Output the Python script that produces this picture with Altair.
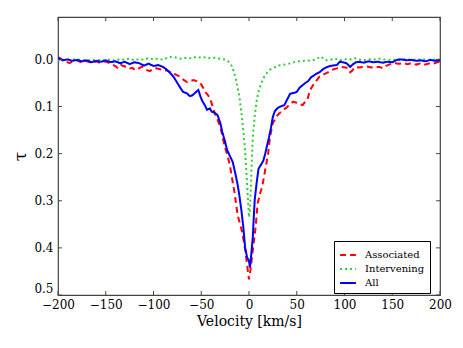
import altair as alt
import pandas as pd

# ---- data ----
assoc_v = [-200,-196,-192,-188,-184,-180,-176,-172,-168,-164,-160,-156,-152,-148,-144,-140,-137,-134,-130,-126,-122,-119,-116,-112,-108,-104,-100,-97,-93,-89,-86,-82,-78,-75,-72,-68,-65,-62,-58,-55,-51,-48,-46,-43,-41,-38,-36,-33,-30,-27,-25,-23,-20,-18,-15,-12,-9,-7,-4,-2,-1,0,2,4,7,9,12,14,17,20,22,25,28,30,34,38,42,46,50,53,56,58,61,64,67,71,74,77,80,83,87,92,97,101,104,106,108,111,115,119,124,128,133,137,140,144,148,152,157,161,166,170,175,179,182,186,190,193,197,200]
assoc_tau = [-0.005,0.000,0.004,0.008,0.003,0.002,0.006,0.003,0.005,0.008,0.004,0.007,0.004,0.006,0.010,0.014,0.019,0.012,0.015,0.020,0.018,0.023,0.020,0.015,0.022,0.025,0.020,0.019,0.021,0.024,0.023,0.027,0.031,0.034,0.037,0.044,0.048,0.046,0.044,0.046,0.050,0.060,0.069,0.076,0.082,0.100,0.114,0.128,0.143,0.171,0.188,0.200,0.225,0.249,0.284,0.330,0.352,0.368,0.404,0.435,0.453,0.467,0.440,0.404,0.355,0.306,0.282,0.268,0.234,0.200,0.164,0.135,0.125,0.118,0.110,0.104,0.097,0.090,0.092,0.095,0.097,0.092,0.086,0.065,0.055,0.044,0.036,0.033,0.030,0.027,0.022,0.019,0.016,0.017,0.019,0.027,0.024,0.016,0.017,0.016,0.015,0.017,0.016,0.016,0.019,0.013,0.010,0.008,0.009,0.008,0.010,0.008,0.011,0.009,0.012,0.010,0.008,0.009,0.006,0.005]

inter_v = [-200,-190,-180,-170,-160,-150,-145,-140,-135,-130,-125,-120,-115,-110,-105,-100,-95,-90,-85,-80,-75,-70,-65,-60,-55,-50,-45,-40,-35,-30,-25,-22,-19,-16,-14,-12,-10,-8,-6,-4,-2,0,1,2,3,4,6,8,10,13,16,19,22,25,28,31,34,38,42,46,50,55,60,65,70,75,80,85,90,95,100,105,110,115,120,125,130,135,140,150,160,170,180,190,200]
inter_tau = [0.002,0.001,0.000,0.002,0.001,0.002,0.000,0.003,-0.001,0.001,-0.002,0.002,-0.001,0.001,-0.003,0.000,-0.002,0.001,-0.004,-0.006,-0.003,-0.001,-0.004,-0.002,-0.006,-0.003,-0.005,-0.002,-0.004,-0.001,0.000,0.004,0.010,0.025,0.040,0.058,0.080,0.112,0.150,0.195,0.265,0.335,0.320,0.270,0.210,0.165,0.120,0.088,0.068,0.050,0.037,0.028,0.022,0.018,0.016,0.013,0.012,0.011,0.009,0.007,0.004,0.004,0.002,0.003,0.000,-0.006,0.002,0.001,-0.002,0.002,-0.001,0.001,-0.003,0.000,0.002,-0.001,0.001,-0.002,0.000,0.001,-0.001,0.001,0.000,0.001,0.000]

all_v = [-200,-195,-190,-185,-180,-175,-170,-165,-160,-155,-150,-145,-140,-135,-130,-125,-120,-115,-110,-105,-100,-95,-90,-86,-82,-79,-75,-72,-69,-65,-62,-59,-56,-53,-51,-49,-46,-44,-41,-39,-36,-33,-30,-28,-25,-23,-20,-17,-14,-12,-10,-8,-6,-4,-2,0,1,3,4,5,6,8,10,13,15,17,19,21,23,25,27,30,33,37,40,43,47,50,53,56,59,62,65,68,71,74,78,82,85,88,92,95,98,102,106,109,112,116,120,125,130,135,140,145,150,155,160,165,170,175,180,185,190,195,200]
all_tau = [-0.004,0.002,0.000,0.003,0.001,0.004,0.002,0.006,0.003,0.005,0.002,0.006,0.004,0.008,0.005,0.010,0.006,0.008,0.013,0.009,0.014,0.012,0.016,0.022,0.030,0.037,0.050,0.060,0.069,0.072,0.078,0.076,0.070,0.065,0.078,0.088,0.098,0.107,0.104,0.111,0.113,0.118,0.135,0.154,0.175,0.192,0.205,0.218,0.245,0.265,0.290,0.320,0.355,0.400,0.420,0.428,0.442,0.400,0.376,0.335,0.298,0.262,0.232,0.222,0.215,0.200,0.182,0.165,0.145,0.122,0.110,0.103,0.100,0.097,0.085,0.073,0.071,0.069,0.060,0.055,0.050,0.046,0.038,0.034,0.030,0.027,0.020,0.016,0.014,0.013,0.012,0.005,0.006,0.008,0.016,0.010,0.006,0.005,0.007,0.004,0.006,0.005,0.007,0.005,0.006,0.001,0.000,0.002,0.001,0.003,0.002,0.004,0.001,0.003,0.002]

series_names = ["Associated", "Intervening", "All"]
series_colors = ["#ff0000", "#33cc33", "#0000ff"]
series_dash = [[6, 4], [2, 3], [1, 0]]

x_ticks = [-200, -150, -100, -50, 0, 50, 100, 150, 200]
y_ticks = [0.0, 0.1, 0.2, 0.3, 0.4, 0.5]

rows = []
for name, vs, ts in [("Associated", assoc_v, assoc_tau),
                     ("Intervening", inter_v, inter_tau),
                     ("All", all_v, all_tau)]:
    for v, t in zip(vs, ts):
        rows.append({"velocity": v, "tau": t, "series": name})
df = pd.DataFrame(rows)

W, H = 382, 278
FONT = "DejaVu Serif, Liberation Serif, serif"
FRAME = "#444444"

xscale = alt.Scale(domain=[-200, 200], nice=False, zero=False)
yscale = alt.Scale(domain=[-0.09, 0.5], reverse=True, nice=False, zero=False)

xaxis = alt.Axis(values=x_ticks, ticks=False, domain=False, grid=False,
                 title="Velocity [km/s]", labelFont=FONT, labelFontSize=12,
                 labelColor="black", labelPadding=4, titleFont=FONT,
                 titleFontSize=14, titleFontWeight="normal", titleColor="black",
                 titlePadding=4, labelFlush=False)
yaxis = alt.Axis(values=y_ticks, format=".1f", ticks=False, domain=False, grid=False,
                 title="τ", labelFont=FONT, labelFontSize=12, labelColor="black",
                 labelPadding=5, titleFont=FONT, titleFontSize=17, labelFlush=True,
                 titleFontWeight="normal", titleColor="black", titlePadding=4)

lines = alt.Chart(df).mark_line(strokeWidth=2, clip=True, strokeCap="butt").encode(
    x=alt.X("velocity:Q", scale=xscale, axis=xaxis),
    y=alt.Y("tau:Q", scale=yscale, axis=yaxis),
    color=alt.Color("series:N", title=None,
                    scale=alt.Scale(domain=series_names, range=series_colors),
                    sort=series_names),
    strokeDash=alt.StrokeDash("series:N", title=None,
                              scale=alt.Scale(domain=series_names, range=series_dash),
                              sort=series_names),
    order=alt.Order("velocity:Q"),
)

xt = pd.DataFrame({"velocity": x_ticks})
yt = pd.DataFrame({"tau": y_ticks})
tick_style = dict(color=FRAME, strokeWidth=1)

xt_bottom = alt.Chart(xt).mark_rule(**tick_style).encode(
    x=alt.X("velocity:Q", scale=xscale, axis=xaxis), y=alt.value(H), y2=alt.value(H - 4))
xt_top = alt.Chart(xt).mark_rule(**tick_style).encode(
    x=alt.X("velocity:Q", scale=xscale, axis=xaxis), y=alt.value(0), y2=alt.value(4))
yt_left = alt.Chart(yt).mark_rule(**tick_style).encode(
    y=alt.Y("tau:Q", scale=yscale, axis=yaxis), x=alt.value(0), x2=alt.value(4))
yt_right = alt.Chart(yt).mark_rule(**tick_style).encode(
    y=alt.Y("tau:Q", scale=yscale, axis=yaxis), x=alt.value(W - 4), x2=alt.value(W))

chart = alt.layer(lines, xt_bottom, xt_top, yt_left, yt_right).properties(
    width=W, height=H,
    autosize=alt.AutoSizeParams(type="none"),
    padding={"left": 50, "top": 9, "right": 15, "bottom": 45},
).configure_view(
    stroke=FRAME, strokeWidth=1.2
).configure_legend(
    orient="none", legendX=276, legendY=224,
    strokeColor="black", fillColor="white", padding=5,
    labelFont=FONT, labelFontSize=10, labelColor="black",
    symbolType="stroke", symbolSize=250, symbolStrokeWidth=2,
    rowPadding=0, labelOffset=8, cornerRadius=0,
)

chart.save("out.html", embed_options={"renderer": "svg", "actions": False})
